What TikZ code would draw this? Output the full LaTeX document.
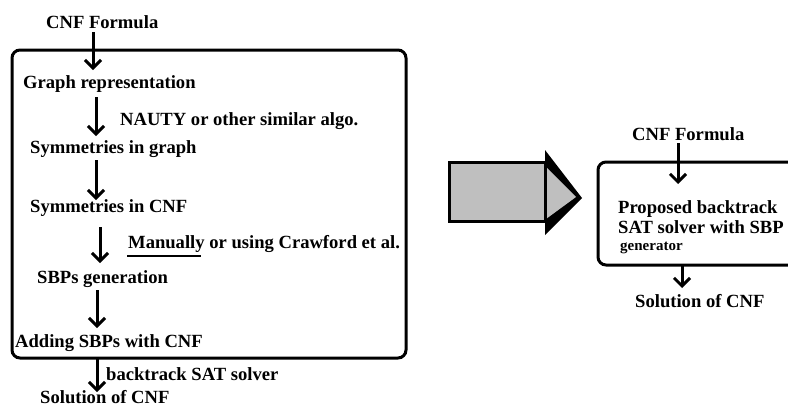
\documentclass[tikz,border=0pt]{standalone}
\usepackage{fontspec}
\setmainfont{Liberation Serif}
\usetikzlibrary{arrows.meta}
\begin{document}
\begin{tikzpicture}[x=1pt,y=-1pt,
  lbl/.style={anchor=base west,inner sep=0pt,font=\fontsize{18.6}{20}\selectfont\bfseries},
  small/.style={anchor=base west,inner sep=0pt,font=\fontsize{15}{17}\selectfont\bfseries},
  flow/.style={line width=3pt,-{Straight Barb[length=8pt,width=16pt,line width=3pt]}},
  frame/.style={line width=3pt,rounded corners=8pt},
  bigarrow/.style={fill=black!25,draw=black,line width=3pt}]
\useasboundingbox (0,0) rectangle (788,407);
% left frame
\draw[frame] (12,50) rectangle (406,358);
% left texts
\node[lbl] (cnf1) at (46,28) {CNF Formula};
\node[lbl] (graph) at (23,88) {Graph representation};
\node[lbl] (nauty) at (120,125) {NAUTY or other similar algo.};
\node[lbl] (symg) at (30,153) {Symmetries in graph};
\node[lbl] (symc) at (30,212) {Symmetries in CNF};
\node[lbl] (manual) at (128,248) {Manually or using Crawford et al.};
\node[lbl] (sbp) at (37,283) {SBPs generation};
\node[lbl] (adding) at (15,347) {Adding SBPs with CNF};
\node[lbl] (bt) at (106,380) {backtrack SAT solver};
\node[lbl] (sol1) at (40,403) {Solution of CNF};
% underline
\coordinate (ul1) at (127,256);
\coordinate (ul2) at (201,256);
\draw[line width=2.5pt] (ul1) -- (ul2);
% left arrows
\coordinate (a1s) at (93,32); \coordinate (a1e) at (93,70);
\coordinate (a2s) at (96,97); \coordinate (a2e) at (96,136);
\coordinate (a3s) at (96,160); \coordinate (a3e) at (96,200);
\coordinate (a4s) at (100,227); \coordinate (a4e) at (100,263);
\coordinate (a5s) at (97,290); \coordinate (a5e) at (97,328);
\coordinate (a6s) at (97,358); \coordinate (a6e) at (97,392);
\draw[flow] (a1s) -- (a1e);
\draw[flow] (a2s) -- (a2e);
\draw[flow] (a3s) -- (a3e);
\draw[flow] (a4s) -- (a4e);
\draw[flow] (a5s) -- (a5e);
\draw[flow] (a6s) -- (a6e);
% big arrow
\fill[black] (545,150) -- (582,198) -- (545,235) -- cycle;
\fill[black!25] (546,167) -- (576,197) -- (546,219) -- cycle;
\draw[bigarrow] (449,162) rectangle (545,221);
% right frame
\draw[frame] (795,162) -- (598,162) -- (598,265) -- (795,265);
% right texts
\node[lbl] (cnf2) at (632,140) {CNF Formula};
\node[lbl] (prop) at (618,213) {Proposed backtrack};
\node[lbl,text depth=0pt] (sat) at (618,233) {SAT solver with SBP};
\node[small] (gen) at (620,250) {generator};
\node[lbl] (sol2) at (635,307) {Solution of CNF};
\coordinate (b1s) at (678,143); \coordinate (b1e) at (678,184);
\coordinate (b2s) at (682,265); \coordinate (b2e) at (682,288);
\draw[flow] (b1s) -- (b1e);
\draw[flow] (b2s) -- (b2e);
\end{tikzpicture}
\end{document}
